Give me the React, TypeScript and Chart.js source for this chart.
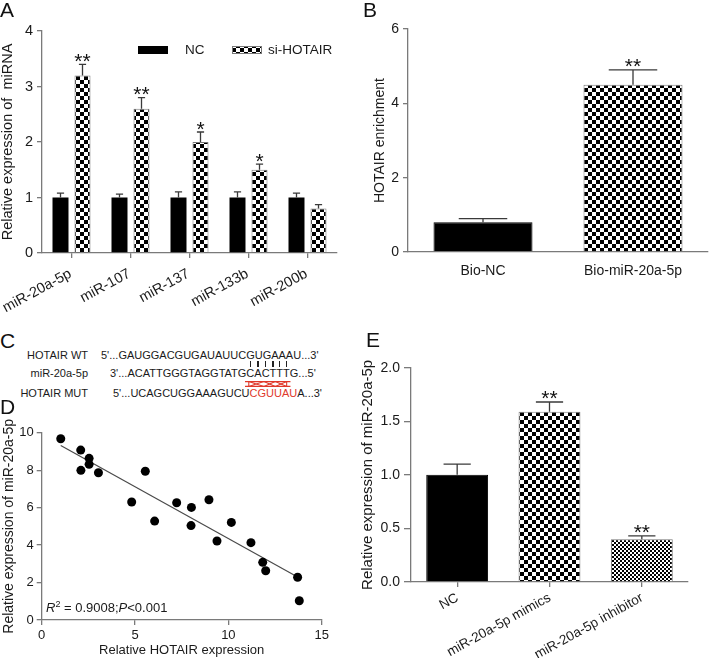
import React, { useEffect, useRef } from 'react';
import { Chart, registerables } from 'chart.js';

Chart.register(...registerables);

const FONT = '"Liberation Sans", Arial, Helvetica, sans-serif';
Chart.defaults.font.family = FONT;
Chart.defaults.color = '#1a1a1a';

// ---------- Panel A data ----------
const aCategories = ['miR-20a-5p', 'miR-107', 'miR-137', 'miR-133b', 'miR-200b'];
const aSeries = ['NC', 'si-HOTAIR'];
const aNC = [1.0, 1.0, 1.0, 1.0, 1.0];
const aNCErr = [1.08, 1.06, 1.1, 1.1, 1.08];
const aSi = [3.2, 2.6, 2.0, 1.5, 0.8];
const aSiErr = [3.4, 2.8, 2.18, 1.6, 0.87];
const aSiStars = ['**', '**', '*', '*', ''];
const aYTitle = 'Relative expression of  miRNA';

// ---------- Panel B data ----------
const bCategories = ['Bio-NC', 'Bio-miR-20a-5p'];
const bValues = [0.8, 4.5];
const bErr = [0.9, 4.9];
const bStars = ['', '**'];
const bYTitle = 'HOTAIR enrichment';

// ---------- Panel D data ----------
const dHotair = [1.02, 2.09, 2.1, 2.54, 2.54, 3.04, 4.82, 5.55, 6.05, 7.23, 8.02, 8.0, 8.96, 9.39, 10.16, 11.21, 11.84, 12.0, 13.71, 13.8];
const dMir = [9.68, 9.07, 7.99, 8.63, 8.31, 7.86, 6.3, 7.94, 5.28, 6.26, 6.01, 5.04, 6.42, 4.22, 5.21, 4.13, 3.08, 2.63, 2.28, 1.03];
const dFitX = [1.02, 13.71];
const dFitY = [9.32, 2.3];
const dXTitle = 'Relative HOTAIR expression';
const dYTitle = 'Relative expression of miR-20a-5p';
const dStat = ['R', '2', ' = 0.9008;', 'P', '<0.001'];

// ---------- Panel E data ----------
const eCategories = ['NC', 'miR-20a-5p mimics', 'miR-20a-5p inhibitor'];
const eValues = [1.0, 1.59, 0.4];
const eErr = [1.1, 1.68, 0.43];
const eStars = ['', '**', '**'];
const eYTitle = 'Relative expression of miR-20a-5p';

// ---------- Panel C text ----------
const cRows = ['HOTAIR WT', 'miR-20a-5p', 'HOTAIR MUT'];
const cWT = ["5'...GAUGGACGUGAUAUUC", 'GUGAAA', "U...3'"];
const cMiR = ["3'...ACATTGGGTAGGTATG", 'CACTTT', "G...5'"];
const cMUT = ["5'...UCAGCUGGAAAGUCU", 'CGUUAU', "A...3'"];

function checker(cell: number, a = '#000', b = '#fff') {
  const c = document.createElement('canvas');
  c.width = cell * 2;
  c.height = cell * 2;
  const g = c.getContext('2d')!;
  g.fillStyle = b;
  g.fillRect(0, 0, cell * 2, cell * 2);
  g.fillStyle = a;
  g.fillRect(0, 0, cell, cell);
  g.fillRect(cell, cell, cell, cell);
  return g.createPattern(c, 'repeat')!;
}

const AXIS = '#7a7a7a';

const fixW = (w: number) => (s: any) => {
  s.width = w;
  s.paddingLeft = 0; s.paddingRight = 0; s.paddingTop = 0; s.paddingBottom = 0;
};
const fixH = (h: number) => (s: any) => {
  s.height = h;
  s.paddingLeft = 0; s.paddingRight = 0; s.paddingTop = 0; s.paddingBottom = 0;
};

const errPlugin = {
  id: 'errbars',
  afterDatasetsDraw(chart: any) {
    const ctx = chart.ctx;
    const y = chart.scales.y;
    chart.data.datasets.forEach((ds: any, di: number) => {
      if (!ds.errTop) return;
      const meta = chart.getDatasetMeta(di);
      meta.data.forEach((el: any, i: number) => {
        const top = y.getPixelForValue(ds.errTop[i]);
        const cw = el.width * (ds.capFrac || 0.45);
        ctx.save();
        ctx.strokeStyle = '#3a3a3a';
        ctx.lineWidth = 1.3;
        ctx.beginPath();
        ctx.moveTo(el.x, el.y);
        ctx.lineTo(el.x, top);
        ctx.moveTo(el.x - cw / 2, top);
        ctx.lineTo(el.x + cw / 2, top);
        ctx.stroke();
        const s = ds.stars && ds.stars[i];
        if (s) {
          ctx.fillStyle = '#111';
          ctx.font = '21px ' + FONT;
          ctx.textAlign = 'center';
          ctx.textBaseline = 'alphabetic';
          ctx.fillText(s, el.x, top + 3.5);
        }
        ctx.restore();
      });
    });
  },
};

// rotated category labels, anchored at each tick of the x scale
const rotLabels = {
  id: 'rotLabels',
  afterDraw(chart: any, _args: any, opts: any) {
    const sc = chart.scales.x;
    const ctx = chart.ctx;
    ctx.save();
    ctx.font = opts.size + 'px ' + FONT;
    ctx.fillStyle = '#1a1a1a';
    ctx.textAlign = 'right';
    ctx.textBaseline = 'top';
    sc.ticks.forEach((_t: any, i: number) => {
      const x = sc.getPixelForTick(i) + opts.dx;
      const y = sc.top + opts.dy;
      ctx.save();
      ctx.translate(x, y);
      ctx.rotate((-opts.angle * Math.PI) / 180);
      ctx.fillText(String(chart.data.labels[i]), 0, 0);
      ctx.restore();
    });
    ctx.restore();
  },
};

const legendA = {
  id: 'legendA',
  afterDraw(chart: any) {
    const ctx = chart.ctx;
    const spots = [
      { bx: 138, tx: 185 },
      { bx: 232, tx: 268 },
    ];
    chart.data.datasets.forEach((ds: any, i: number) => {
      const p = spots[i];
      ctx.save();
      ctx.fillStyle = ds.backgroundColor;
      ctx.fillRect(p.bx, 46, 30, 8);
      if (ds.borderWidth) {
        ctx.strokeStyle = ds.borderColor;
        ctx.lineWidth = 1;
        ctx.strokeRect(p.bx + 0.5, 46.5, 29, 7);
      }
      ctx.fillStyle = '#1a1a1a';
      ctx.font = '13.5px ' + FONT;
      ctx.textBaseline = 'middle';
      ctx.textAlign = 'left';
      ctx.fillText(ds.label, p.tx, 50.5);
      ctx.restore();
    });
  },
};

const statPlugin = {
  id: 'statD',
  afterDraw(chart: any) {
    const ctx = chart.ctx;
    let x = 46;
    const y = 207;
    ctx.save();
    ctx.fillStyle = '#1a1a1a';
    ctx.textBaseline = 'alphabetic';
    ctx.textAlign = 'left';
    const fonts = ['italic 13px ' + FONT, '9px ' + FONT, '13px ' + FONT, 'italic 13px ' + FONT, '13px ' + FONT];
    const dys = [0, -5, 0, 0, 0];
    dStat.forEach((t, i) => {
      ctx.font = fonts[i];
      ctx.fillText(t, x, y + dys[i]);
      x += ctx.measureText(t).width;
    });
    ctx.restore();
  },
};

function yAxis(opts: any) {
  return {
    min: opts.min,
    max: opts.max,
    afterFit: fixW(opts.width),
    border: { display: true, color: AXIS, width: 1.3 },
    grid: { display: true, drawOnChartArea: false, drawTicks: true, tickLength: opts.tickLength ?? 5, color: AXIS, lineWidth: 1.3 },
    ticks: {
      stepSize: opts.step,
      padding: opts.pad ?? 4,
      font: { size: opts.tickSize ?? 14 },
      color: '#1a1a1a',
      callback: opts.fmt || ((v: any) => String(v)),
    },
    title: {
      display: true,
      text: opts.title,
      color: '#1a1a1a',
      font: { size: opts.titleSize ?? 14, lineHeight: 1.1 },
      padding: { top: opts.titlePad ?? 0, bottom: 0 },
    },
  };
}

function xCat(opts: any) {
  return {
    afterFit: fixH(opts.height),
    border: { display: true, color: AXIS, width: 1.3 },
    grid: { display: true, offset: false, drawOnChartArea: false, drawTicks: opts.ticks !== false, tickLength: 5, color: AXIS, lineWidth: 1.3 },
    ticks: {
      display: opts.labels !== false,
      autoSkip: false,
      minRotation: 0,
      maxRotation: 0,
      padding: opts.pad ?? 3,
      font: { size: opts.size ?? 14 },
      color: '#1a1a1a',
    },
  };
}

function buildA() {
  return {
    type: 'bar',
    data: {
      labels: aCategories,
      datasets: [
        { label: aSeries[0], data: aNC, backgroundColor: '#000', borderWidth: 0, errTop: aNCErr, capFrac: 0.45 },
        { label: aSeries[1], data: aSi, backgroundColor: checker(4), borderColor: '#777', borderWidth: 1, errTop: aSiErr, stars: aSiStars, capFrac: 0.45 },
      ],
    },
    options: {
      responsive: false,
      animation: false,
      devicePixelRatio: 1,
      layout: { padding: { top: 31, right: 23, left: 0, bottom: 0 } },
      categoryPercentage: 0.746,
      barPercentage: 0.727,
      plugins: {
        legend: { display: false },
        tooltip: { enabled: false },
        rotLabels: { dx: -4.5, dy: 13.5, angle: 28.5, size: 14.5 },
      },
      scales: {
        x: xCat({ height: 67, labels: false }),
        y: yAxis({ min: 0, max: 4, step: 1, width: 42, title: aYTitle, titleSize: 14.5, titlePad: 0, tickSize: 14.5 }),
      },
    },
    plugins: [errPlugin, legendA, rotLabels],
  } as any;
}

function buildB() {
  return {
    type: 'bar',
    data: {
      labels: bCategories,
      datasets: [
        {
          label: 'B',
          data: bValues,
          backgroundColor: ['#000', checker(4)],
          borderColor: ['#000', '#777'],
          borderWidth: 1,
          errTop: bErr,
          stars: bStars,
          capFrac: 0.49,
        },
      ],
    },
    options: {
      responsive: false,
      animation: false,
      devicePixelRatio: 1,
      layout: { padding: { top: 29, right: 1, left: 0, bottom: 0 } },
      categoryPercentage: 1,
      barPercentage: 0.66,
      plugins: { legend: { display: false }, tooltip: { enabled: false } },
      scales: {
        x: xCat({ height: 58, ticks: false, pad: 11, size: 14 }),
        y: yAxis({ min: 0, max: 6, step: 2, width: 48, title: bYTitle, titleSize: 14, titlePad: 12.5 }),
      },
    },
    plugins: [errPlugin],
  } as any;
}

function buildD() {
  return {
    type: 'scatter',
    data: {
      datasets: [
        {
          label: 'samples',
          data: dHotair.map((x, i) => ({ x, y: dMir[i] })),
          backgroundColor: '#000',
          borderWidth: 0,
          pointRadius: 4.5,
        },
        {
          type: 'line',
          label: 'fit',
          data: dFitX.map((x, i) => ({ x, y: dFitY[i] })),
          borderColor: '#4a4a4a',
          borderWidth: 1.2,
          pointRadius: 0,
          showLine: true,
          fill: false,
        },
      ],
    },
    options: {
      responsive: false,
      animation: false,
      devicePixelRatio: 1,
      clip: false,
      layout: { padding: { top: 27.7, right: 23.3, left: 0, bottom: 0 } },
      plugins: { legend: { display: false }, tooltip: { enabled: false } },
      scales: {
        x: {
          type: 'linear',
          min: 0,
          max: 15,
          afterFit: fixH(38),
          border: { display: true, color: AXIS, width: 1.3 },
          grid: { display: true, drawOnChartArea: false, drawTicks: true, tickLength: 5, color: AXIS, lineWidth: 1.3 },
          ticks: { stepSize: 5, padding: 3, font: { size: 13 }, color: '#1a1a1a' },
          title: { display: true, text: dXTitle, color: '#1a1a1a', font: { size: 13, lineHeight: 1.2 }, padding: { top: 0, bottom: 0 } },
        },
        y: yAxis({ min: 0, max: 10, step: 2, width: 41.7, title: dYTitle, titleSize: 14, titlePad: 1.5, tickSize: 13, pad: 3 }),
      },
    },
    plugins: [statPlugin],
  } as any;
}

function buildE() {
  return {
    type: 'bar',
    data: {
      labels: eCategories,
      datasets: [
        {
          label: 'E',
          data: eValues,
          backgroundColor: ['#000', checker(4), checker(2)],
          borderColor: ['#000', '#777', '#777'],
          borderWidth: 1,
          errTop: eErr,
          stars: eStars,
          capFrac: 0.44,
        },
      ],
    },
    options: {
      responsive: false,
      animation: false,
      devicePixelRatio: 1,
      layout: { padding: { top: 67.7, right: 21, left: 0, bottom: 0 } },
      categoryPercentage: 1,
      barPercentage: 0.67,
      plugins: {
        legend: { display: false },
        tooltip: { enabled: false },
        rotLabels: { dx: -3, dy: 9, angle: 29, size: 13.5 },
      },
      scales: {
        x: xCat({ height: 76, labels: false }),
        y: yAxis({
          min: 0, max: 2, step: 0.5, width: 51, title: eYTitle, titleSize: 15, titlePad: 0, tickLength: 7,
          fmt: (v: any) => Number(v).toFixed(1),
        }),
      },
    },
    plugins: [errPlugin, rotLabels],
  } as any;
}

function Panel({ left, top, width, height, build }: any) {
  const ref = useRef<HTMLCanvasElement>(null);
  useEffect(() => {
    const chart = new Chart(ref.current!, build());
    return () => chart.destroy();
  }, []);
  return (
    <canvas
      ref={ref}
      width={width}
      height={height}
      style={{ position: 'absolute', left, top, width, height, display: 'block' }}
    />
  );
}

const letterStyle: any = {
  position: 'absolute',
  fontFamily: FONT,
  fontSize: 21,
  lineHeight: '21px',
  color: '#111',
};

const seqBase: any = {
  position: 'absolute',
  fontFamily: FONT,
  fontSize: 11,
  lineHeight: '13px',
  color: '#1a1a1a',
  whiteSpace: 'nowrap',
};

function PairLetters({ text, bars }: { text: string; bars?: boolean }) {
  return (
    <>
      {text.split('').map((ch, i) => (
        <span key={i} style={{ position: 'relative', display: 'inline-block' }}>
          {ch}
          {bars && (
            <span style={{ position: 'absolute', left: '50%', marginLeft: -0.6, top: -6, width: 1.3, height: 6, background: '#222' }} />
          )}
        </span>
      ))}
    </>
  );
}

function PanelC() {
  const rowTops = [348.6, 366.6, 386.6];
  return (
    <>
      {cRows.map((r, i) => (
        <div key={r} style={{ ...seqBase, left: 0, width: 88, textAlign: 'right', top: rowTops[i] }}>{r}</div>
      ))}
      <div style={{ ...seqBase, left: 101, top: rowTops[0] }}>
        {cWT[0]}{cWT[1]}{cWT[2]}
      </div>
      <div style={{ ...seqBase, left: 110, top: rowTops[1] }}>
        {cMiR[0]}
        <span style={{ position: 'relative', display: 'inline-block' }}>
          <PairLetters text={cMiR[1]} bars />
          <svg
            style={{ position: 'absolute', left: -1, top: 14.4, width: 'calc(100% + 2px)', height: 6, overflow: 'visible' }}
            viewBox="0 0 60 6"
            preserveAspectRatio="none"
          >
            <g stroke="#e0392b" strokeWidth="1.1" fill="none">
              <line x1="0" y1="0.6" x2="60" y2="0.6" vectorEffect="non-scaling-stroke" />
              <line x1="0" y1="5.4" x2="60" y2="5.4" vectorEffect="non-scaling-stroke" />
              <line x1="5" y1="0.6" x2="5" y2="5.4" vectorEffect="non-scaling-stroke" />
              <line x1="55" y1="0.6" x2="55" y2="5.4" vectorEffect="non-scaling-stroke" />
              <line x1="5" y1="0.6" x2="25" y2="5.4" vectorEffect="non-scaling-stroke" />
              <line x1="5" y1="5.4" x2="25" y2="0.6" vectorEffect="non-scaling-stroke" />
              <line x1="25" y1="0.6" x2="40" y2="5.4" vectorEffect="non-scaling-stroke" />
              <line x1="25" y1="5.4" x2="40" y2="0.6" vectorEffect="non-scaling-stroke" />
              <line x1="40" y1="0.6" x2="55" y2="5.4" vectorEffect="non-scaling-stroke" />
              <line x1="40" y1="5.4" x2="55" y2="0.6" vectorEffect="non-scaling-stroke" />
            </g>
          </svg>
        </span>
        {cMiR[2]}
      </div>
      <div style={{ ...seqBase, left: 113, top: rowTops[2] }}>
        {cMUT[0]}
        <span style={{ color: '#e0392b' }}>{cMUT[1]}</span>
        {cMUT[2]}
      </div>
    </>
  );
}

export default function App() {
  useEffect(() => {
    document.body.style.margin = '0';
  }, []);
  return (
    <div style={{ position: 'absolute', left: 0, top: 0, width: 709, height: 658, background: '#fff', overflow: 'hidden' }}>
      <Panel left={0} top={0} width={360} height={320} build={buildA} />
      <Panel left={360} top={0} width={349} height={310} build={buildB} />
      <Panel left={0} top={405} width={345} height={253} build={buildD} />
      <Panel left={360} top={300} width={349} height={358} build={buildE} />
      <PanelC />
      <div style={{ ...letterStyle, left: 0, top: -1 }}>A</div>
      <div style={{ ...letterStyle, left: 363, top: -1 }}>B</div>
      <div style={{ ...letterStyle, left: 0, top: 330 }}>C</div>
      <div style={{ ...letterStyle, left: 0, top: 396 }}>D</div>
      <div style={{ ...letterStyle, left: 366, top: 329 }}>E</div>
    </div>
  );
}
